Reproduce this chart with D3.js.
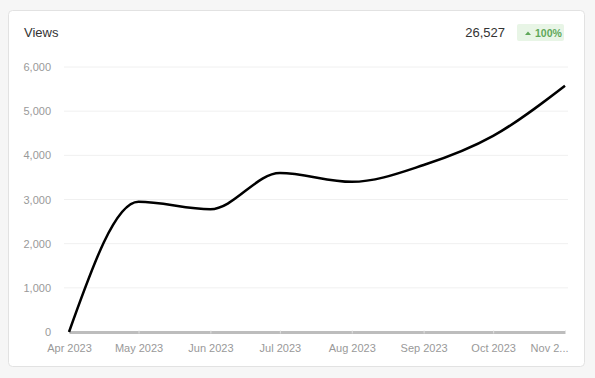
<!DOCTYPE html>
<html>
<head>
<meta charset="utf-8">
<script src="https://cdn.jsdelivr.net/npm/d3@7"></script>
<style>
  body { margin: 0; background: #f6f6f6; font-family: "Liberation Sans", Arial, sans-serif; }
  svg { display: block; }
</style>
</head>
<body>
<svg id="chart" width="595" height="378"></svg>
<script>
// Data
const months = ["2023-04-01", "2023-05-01", "2023-06-01", "2023-07-01", "2023-08-01", "2023-09-01", "2023-10-01", "2023-11-01"];
const views = [0, 2950, 2780, 3600, 3400, 3780, 4440, 5577];
const yTicks = [0, 1000, 2000, 3000, 4000, 5000, 6000];
const tickLabels = ["Apr 2023", "May 2023", "Jun 2023", "Jul 2023", "Aug 2023", "Sep 2023", "Oct 2023", "Nov 2..."];
const title = "Views";
const totalLabel = "26,527";
const changeLabel = "100%";

const parse = d3.timeParse("%Y-%m-%d");
const data = months.map((m, i) => ({ date: parse(m), value: views[i] }));

const svg = d3.select("#chart");

// Card
svg.append("rect")
  .attr("x", 8.5).attr("y", 10.5)
  .attr("width", 576).attr("height", 356)
  .attr("rx", 4)
  .attr("fill", "#fff")
  .attr("stroke", "#e2e2e2");

// Header
svg.append("text")
  .attr("x", 24).attr("y", 37)
  .attr("font-size", 13).attr("fill", "#333")
  .text(title);

svg.append("text")
  .attr("x", 505).attr("y", 37)
  .attr("text-anchor", "end")
  .attr("font-size", 13).attr("fill", "#333")
  .text(totalLabel);

const badge = svg.append("g").attr("transform", "translate(517,24)");
badge.append("rect")
  .attr("width", 47).attr("height", 17).attr("rx", 2)
  .attr("fill", "#e8f5e6");
badge.append("path")
  .attr("d", "M8,11 L11,7.5 L14,11 Z")
  .attr("fill", "#5fa85a");
badge.append("text")
  .attr("x", 18).attr("y", 12.5)
  .attr("font-size", 10.5).attr("font-weight", "bold").attr("fill", "#5fa85a")
  .text(changeLabel);

// Plot area
const x = d3.scaleTime()
  .domain(d3.extent(data, d => d.date))
  .range([69, 565]);

const y = d3.scaleLinear()
  .domain([0, 6000])
  .range([332, 67]);

// Grid
svg.append("g")
  .selectAll("line")
  .data(yTicks.filter(t => t > 0))
  .join("line")
  .attr("x1", 64).attr("x2", 568)
  .attr("y1", d => y(d)).attr("y2", d => y(d))
  .attr("stroke", "#f0f0f0");

// Y axis
const yAxis = svg.append("g")
  .attr("transform", "translate(51,0)")
  .call(d3.axisLeft(y).tickValues(yTicks).tickSize(0).tickPadding(0).tickFormat(d3.format(",")));
yAxis.select(".domain").remove();
yAxis.selectAll("text")
  .attr("font-family", "Liberation Sans, Arial, sans-serif")
  .attr("font-size", 11).attr("fill", "#999");

// X axis
const xAxis = svg.append("g")
  .attr("transform", "translate(0,332)")
  .call(d3.axisBottom(x)
    .tickValues(data.map(d => d.date))
    .tickSize(0).tickPadding(12)
    .tickFormat((d, i) => tickLabels[i]));
xAxis.select(".domain")
  .attr("stroke", "#bdbdbd").attr("stroke-width", 3);
xAxis.selectAll("text")
  .attr("font-family", "Liberation Sans, Arial, sans-serif")
  .attr("font-size", 11).attr("fill", "#999");
// last label is truncated and kept inside the plot
xAxis.selectAll(".tick text")
  .filter((d, i, n) => i === n.length - 1)
  .attr("text-anchor", "end").attr("x", 3);
xAxis.selectAll(".tick line").remove();
xAxis.selectAll(".tick").append("line")
  .attr("y1", -1.5).attr("y2", 1.5)
  .attr("stroke", "#e0e0e0").attr("stroke-width", 1);

// Line
const line = d3.line()
  .x(d => x(d.date))
  .y(d => y(d.value))
  .curve(d3.curveMonotoneX);

svg.append("path")
  .datum(data)
  .attr("fill", "none")
  .attr("stroke", "#000")
  .attr("stroke-width", 2.5)
  .attr("d", line);
</script>
</body>
</html>
